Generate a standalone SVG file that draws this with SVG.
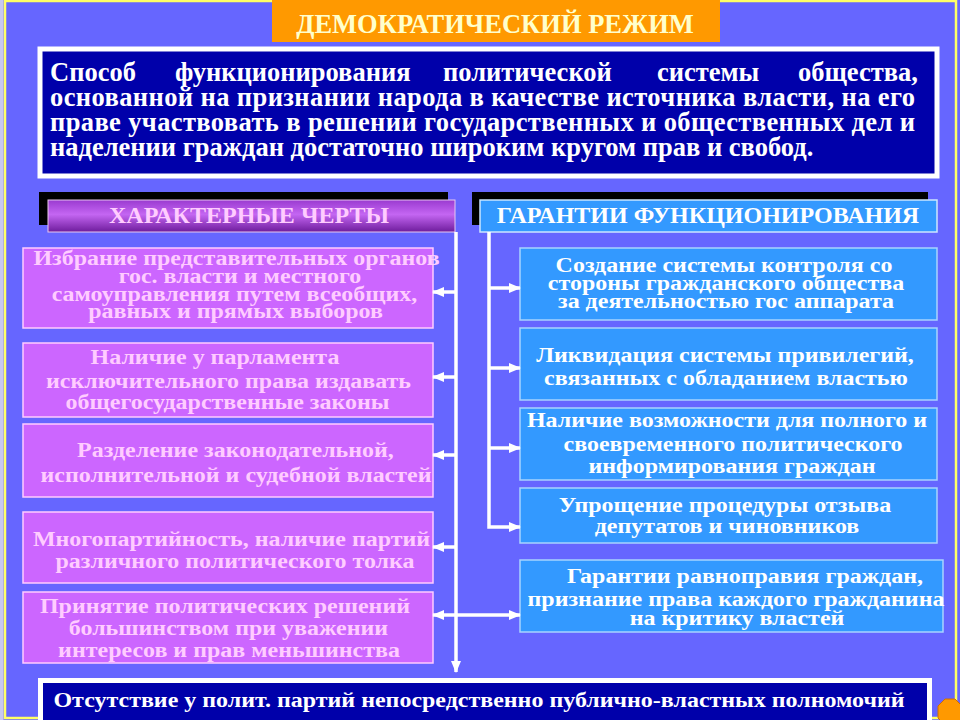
<svg xmlns="http://www.w3.org/2000/svg" width="960" height="720" viewBox="0 0 960 720">
<defs>
<style>
text{font-family:"Liberation Serif","Times New Roman",serif;font-weight:bold;text-anchor:middle}
.def{fill:#fff;font-size:26.5px;text-anchor:start}
.lt{fill:#FFCCFF;font-size:22px}
.rt{fill:#fff;font-size:22px}
.hd{font-size:24px}
.lbox{fill:#CC66FF;stroke:#FFCCFF;stroke-width:1.5}
.rbox{fill:#3399FF;stroke:#A8D4FF;stroke-width:1.5}
.conn{fill:none;stroke:#fff;stroke-width:3.5}
</style>
<linearGradient id="pg" x1="0" y1="0" x2="0" y2="1">
<stop offset="0" stop-color="#9A3AD0"/>
<stop offset="0.45" stop-color="#C466F2"/>
<stop offset="1" stop-color="#6E1C9C"/>
</linearGradient>
<marker id="ah" viewBox="0 0 12 10" refX="11" refY="5" markerWidth="12" markerHeight="10" markerUnits="userSpaceOnUse" orient="auto">
<path d="M0,0 L12,5 L0,10 Z" fill="#fff"/>
</marker>
</defs>
<rect x="0" y="0" width="960" height="720" fill="#6666FF"/>
<rect x="0" y="0" width="3.5" height="720" fill="#C8C8F0"/>
<rect x="5" y="1" width="951" height="717" fill="none" stroke="#FFFF66" stroke-width="2.5"/>

<g id="title">
<rect x="272" y="0" width="448" height="42" fill="#FF9900"/>
<text x="495" y="33" style="font-size:26.5px;fill:#FFFFCC">ДЕМОКРАТИЧЕСКИЙ РЕЖИМ</text>
</g>

<g id="definition">
<rect x="40" y="49" width="897" height="127" fill="#0000AA" stroke="#fff" stroke-width="5"/>
<text class="def" y="81"><tspan x="50">Способ</tspan><tspan x="175">функционирования</tspan><tspan x="443">политической</tspan><tspan x="657">системы</tspan><tspan x="798">общества,</tspan></text>
<text class="def" x="50" y="106" textLength="865" lengthAdjust="spacing">основанной на признании народа в качестве источника власти, на его</text>
<text class="def" x="50" y="131" textLength="865" lengthAdjust="spacing">праве участвовать в решении государственных и общественных дел и</text>
<text class="def" x="50" y="156">наделении граждан достаточно широким кругом прав и свобод.</text>
</g>

<g id="header-left">
<rect x="39" y="192" width="409" height="33" fill="#000"/>
<rect x="48" y="200" width="407" height="32" fill="url(#pg)" stroke="#E8C8F0" stroke-width="1"/>
<text class="hd" x="249" y="223" fill="#FFCCFF">ХАРАКТЕРНЫЕ ЧЕРТЫ</text>
</g>

<g id="header-right">
<rect x="472" y="192" width="456" height="33" fill="#000"/>
<rect x="480" y="200" width="457" height="32" fill="#3399FF" stroke="#CCE6FF" stroke-width="1.5"/>
<text class="hd" x="708" y="223" fill="#fff">ГАРАНТИИ ФУНКЦИОНИРОВАНИЯ</text>
</g>

<g id="l1">
<rect class="lbox" x="23" y="248" width="410" height="80"/>
<text class="lt" transform="matrix(1.09 0 0 1 0 0)"><tspan x="216.97" y="265">Избрание представительных органов</tspan><tspan x="220.18" y="283">гос. власти и местного</tspan><tspan x="215.14" y="301">самоуправления путем всеобщих,</tspan><tspan x="216.06" y="318">равных и прямых выборов</tspan></text>
</g>
<g id="l2">
<rect class="lbox" x="23" y="343" width="410" height="74"/>
<text class="lt" transform="matrix(1.09 0 0 1 0 0)"><tspan x="197.25" y="364">Наличие у парламента</tspan><tspan x="209.63" y="388">исключительного права издавать</tspan><tspan x="208.72" y="409">общегосударственные  законы</tspan></text>
</g>
<g id="l3">
<rect class="lbox" x="23" y="424" width="410" height="73"/>
<text class="lt" transform="matrix(1.09 0 0 1 0 0)"><tspan x="216.06" y="457">Разделение законодательной,</tspan><tspan x="216.51" y="482">исполнительной  и судебной властей</tspan></text>
</g>
<g id="l4">
<rect class="lbox" x="23" y="512" width="410" height="71"/>
<text class="lt" transform="matrix(1.09 0 0 1 0 0)"><tspan x="212.39" y="546">Многопартийность, наличие партий</tspan><tspan x="215.6" y="568">различного политического толка</tspan></text>
</g>
<g id="l5">
<rect class="lbox" x="23" y="592" width="410" height="71"/>
<text class="lt" transform="matrix(1.09 0 0 1 0 0)"><tspan x="206.42" y="613">Принятие политических решений</tspan><tspan x="209.63" y="635">большинством при  уважении</tspan><tspan x="210.09" y="657">интересов и прав меньшинства</tspan></text>
</g>

<g id="r1">
<rect class="rbox" x="520" y="248" width="417" height="72"/>
<text class="rt" transform="matrix(1.09 0 0 1 0 0)"><tspan x="664.22" y="272">Создание системы контроля со</tspan><tspan x="666.06" y="290">стороны гражданского общества</tspan><tspan x="666.06" y="308">за деятельностью гос аппарата</tspan></text>
</g>
<g id="r2">
<rect class="rbox" x="520" y="328" width="417" height="72"/>
<text class="rt" transform="matrix(1.09 0 0 1 0 0)"><tspan x="665.14" y="362">Ликвидация системы привилегий,</tspan><tspan x="666.06" y="385">связанных с обладанием властью</tspan></text>
</g>
<g id="r3">
<rect class="rbox" x="520" y="408" width="417" height="72"/>
<text class="rt" transform="matrix(1.09 0 0 1 0 0)"><tspan x="666.97" y="427">Наличие возможности для полного и</tspan><tspan x="672.48" y="451">своевременного политического</tspan><tspan x="671.56" y="473">информирования граждан</tspan></text>
</g>
<g id="r4">
<rect class="rbox" x="520" y="488" width="417" height="55"/>
<text class="rt" transform="matrix(1.09 0 0 1 0 0)"><tspan x="665.14" y="512">Упрощение процедуры отзыва</tspan><tspan x="666.97" y="533">депутатов и чиновников</tspan></text>
</g>
<g id="r5">
<rect class="rbox" x="520" y="560" width="423" height="72"/>
<text class="rt" transform="matrix(1.09 0 0 1 0 0)"><tspan x="683.49" y="583">Гарантии равноправия граждан,</tspan><tspan x="675.23" y="606">признание права каждого гражданина</tspan><tspan x="676.15" y="625">на критику властей</tspan></text>
</g>

<g id="bottom">
<rect x="40.5" y="680.5" width="889" height="50" fill="#0000AA" stroke="#fff" stroke-width="5"/>
<text transform="matrix(1.09 0 0 1 0 0)" x="439.45" y="707" style="font-size:22px;fill:#fff">Отсутствие у полит. партий непосредственно публично-властных полномочий</text>
</g>

<g id="connectors">
<path class="conn" d="M456,232 V672" marker-end="url(#ah)"/>
<path class="conn" d="M456,292 H433" marker-end="url(#ah)"/>
<path class="conn" d="M456,377 H433" marker-end="url(#ah)"/>
<path class="conn" d="M456,455 H433" marker-end="url(#ah)"/>
<path class="conn" d="M456,547 H433" marker-end="url(#ah)"/>
<path class="conn" d="M456,615 H433" marker-end="url(#ah)"/>
<path class="conn" d="M456,615 H520" marker-end="url(#ah)"/>
<path class="conn" d="M489,232 V527 H520" marker-end="url(#ah)"/>
<path class="conn" d="M489,288 H520" marker-end="url(#ah)"/>
<path class="conn" d="M489,368 H520" marker-end="url(#ah)"/>
<path class="conn" d="M489,448 H520" marker-end="url(#ah)"/>
</g>

<g id="ornament">
<polygon points="955,699 962,706 962,718 955,725 945,725 938,718 938,706 945,699" fill="#FF9900" stroke="#D07000" stroke-width="1"/>
</g>
</svg>
